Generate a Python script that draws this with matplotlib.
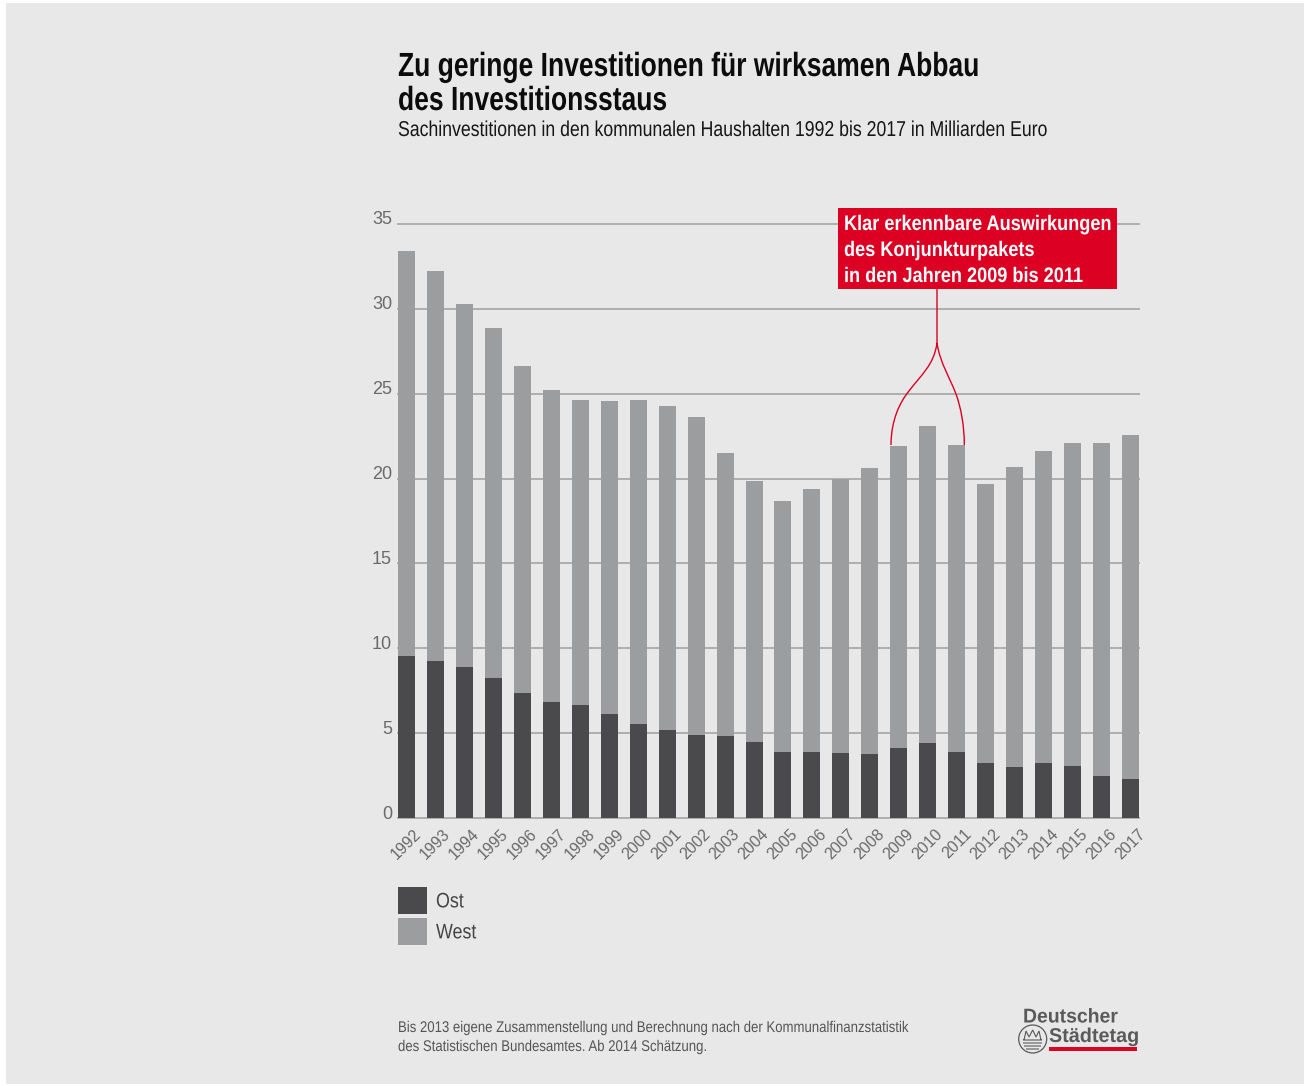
import matplotlib
matplotlib.use("Agg")
import matplotlib.pyplot as plt
from matplotlib.patches import PathPatch, Rectangle, Circle
from matplotlib.path import Path
from matplotlib.patheffects import AbstractPathEffect
from matplotlib.transforms import Affine2D

years = list(range(1992, 2018))
ost = [9.55, 9.25, 8.9, 8.25, 7.35, 6.85, 6.65, 6.15, 5.55, 5.2, 4.9, 4.85, 4.5,
       3.9, 3.9, 3.85, 3.8, 4.15, 4.45, 3.9, 3.25, 3.0, 3.25, 3.1, 2.5, 2.3]
west = [23.85, 22.95, 21.4, 20.6, 19.25, 18.35, 18.0, 18.4, 19.1, 19.05, 18.75, 16.65, 15.35,
        14.8, 15.5, 16.15, 16.8, 17.75, 18.65, 18.05, 16.45, 17.7, 18.35, 19.0, 19.6, 20.25]
y_ticks = [0, 5, 10, 15, 20, 25, 30, 35]

title_lines = ["Zu geringe Investitionen für wirksamen Abbau", "des Investitionsstaus"]
subtitle = "Sachinvestitionen in den kommunalen Haushalten 1992 bis 2017 in Milliarden Euro"
callout = ["Klar erkennbare Auswirkungen", "des Konjunkturpakets", "in den Jahren 2009 bis 2011"]
footnote = ["Bis 2013 eigene Zusammenstellung und Berechnung nach der Kommunalfinanzstatistik",
            "des Statistischen Bundesamtes. Ab 2014 Schätzung."]

W, H = 1304, 1086
DARK, LIGHT, RED, PANEL = "#4a4a4c", "#9c9d9f", "#dc0022", "#e8e8e8"
GRID, TICK = "#a9a9a9", "#6a6a6a"

plt.rcParams["font.family"] = ["Liberation Sans", "DejaVu Sans"]


class Condensed(AbstractPathEffect):
    """Squeeze glyph outlines horizontally about the text origin."""

    def __init__(self, factor):
        super().__init__()
        self.factor = factor

    def draw_path(self, renderer, gc, tpath, affine, rgbFace=None):
        renderer.draw_path(gc, tpath, Affine2D().scale(self.factor, 1) + affine, rgbFace)


fig = plt.figure(figsize=(W / 100, H / 100), dpi=100, facecolor="white")
# Pixel coordinates measured from the top-left corner of the sheet
px = Affine2D().scale(1 / W, -1 / H).translate(0, 1) + fig.transFigure


def pt(pixels):
    return pixels * 0.72


def label(x, y, txt, size, squeeze, color, weight="normal", zorder=8):
    return fig.text(x, y, txt, transform=px, fontsize=pt(size), color=color, fontweight=weight,
                    va="baseline", zorder=zorder, path_effects=[Condensed(squeeze)])


fig.add_artist(Rectangle((6, 3), W - 6, 1081, transform=px, fc=PANEL, ec="none", zorder=-5))

left, right, bottom, top = 398, 1139, 818.3, 223.7
ax = fig.add_axes([left / W, 1 - bottom / H, (right - left) / W, (bottom - top) / H])
ax.patch.set_visible(False)
bar_w = 0.587
ax.set_xlim(-bar_w / 2, len(years) - 1 + bar_w / 2)
ax.set_ylim(0, 35)
xs = list(range(len(years)))
bars_ost = ax.bar(xs, ost, width=bar_w, color=DARK, zorder=3)
bars_west = ax.bar(xs, west, width=bar_w, bottom=ost, color=LIGHT, zorder=3)

ax.set_yticks(y_ticks)
ax.set_xticks(xs)
ax.set_xticklabels(years, rotation=45, ha="right", va="top", rotation_mode="anchor",
                   fontsize=pt(16), color=TICK)
ax.tick_params(axis="x", length=0, pad=5)
ax.tick_params(axis="y", length=0, pad=4.3, labelsize=pt(18), labelcolor=TICK)
ax.grid(axis="y", color=GRID, lw=1.3, zorder=1, clip_on=False)
ax.grid(axis="x", visible=False)
for s in ax.spines.values():
    s.set_visible(False)
# Tick labels sit slightly off their nominal anchors
for lbl in ax.get_xticklabels():
    lbl.set_transform(lbl.get_transform() + Affine2D().translate(7, -1))
for lbl in ax.get_yticklabels():
    lbl.set_transform(lbl.get_transform() + Affine2D().translate(0, 5.7))

# Headline block
for txt, base in zip(title_lines, (76, 110)):
    label(398, base, txt, 33.5, 0.79, "#0c0c0c", "bold")
label(398, 136, subtitle, 21.5, 0.822, "#161616")

# Callout box with its forked leader down to the stimulus years
fig.add_artist(Rectangle((838, 208), 279, 81, transform=px, fc=RED, ec="none", zorder=6))
for txt, base in zip(callout, (230, 256, 282)):
    label(844, base, txt, 21, 0.864, "white", "bold")
leader = Path(
    [(937, 289), (937, 343),
     (937, 343), (934, 365), (921, 375), (909, 391), (900, 402), (891, 420), (891, 445),
     (937, 343), (940, 363), (950, 378), (956, 394), (961, 408), (964.3, 425), (964.3, 445)],
    [Path.MOVETO, Path.LINETO,
     Path.MOVETO, Path.CURVE4, Path.CURVE4, Path.CURVE4, Path.CURVE4, Path.CURVE4, Path.CURVE4,
     Path.MOVETO, Path.CURVE4, Path.CURVE4, Path.CURVE4, Path.CURVE4, Path.CURVE4, Path.CURVE4])
fig.add_artist(PathPatch(leader, transform=px, fc="none", ec=RED, lw=1.0, zorder=5))

# Legend
legend = fig.legend(handles=[bars_ost, bars_west], labels=["Ost", "West"], loc="upper left",
                    bbox_to_anchor=(398 / W, 1 - 887 / H), bbox_transform=fig.transFigure,
                    frameon=False, borderpad=0, borderaxespad=0, fontsize=pt(21),
                    labelcolor="#444444", handlelength=29 / 21, handleheight=1.6,
                    handletextpad=9 / 21, labelspacing=4 / 21)
for t in legend.get_texts():
    t.set_path_effects([Condensed(0.85)])

# Source note
for txt, base in zip(footnote, (1032, 1051)):
    label(398, base, txt, 15.5, 0.85, "#555555")

# Association wordmark
LOGO = "#5a5a5c"
label(1023, 1022.5, "Deutscher", 20, 0.97, LOGO, "bold")
label(1049, 1042, "Städtetag", 20, 0.99, LOGO, "bold")
fig.add_artist(Rectangle((1049, 1047), 88, 4, transform=px, fc=RED, ec="none"))
fig.add_artist(Circle((1032.7, 1039), 14, transform=px, fc="none", ec=LOGO, lw=0.9))
emblem = Path(
    [(1024, 1040), (1026, 1031), (1029, 1037), (1032.7, 1030), (1036, 1037), (1039, 1031), (1041, 1040),
     (1023, 1040), (1042, 1040), (1023, 1043), (1042, 1043), (1024, 1046), (1041, 1046),
     (1026, 1049), (1039, 1049)],
    [Path.MOVETO] + [Path.LINETO] * 6 + [Path.MOVETO, Path.LINETO] * 4)
fig.add_artist(PathPatch(emblem, transform=px, fc="none", ec=LOGO, lw=0.8))

fig.savefig("out.png", dpi=100, facecolor="white")
